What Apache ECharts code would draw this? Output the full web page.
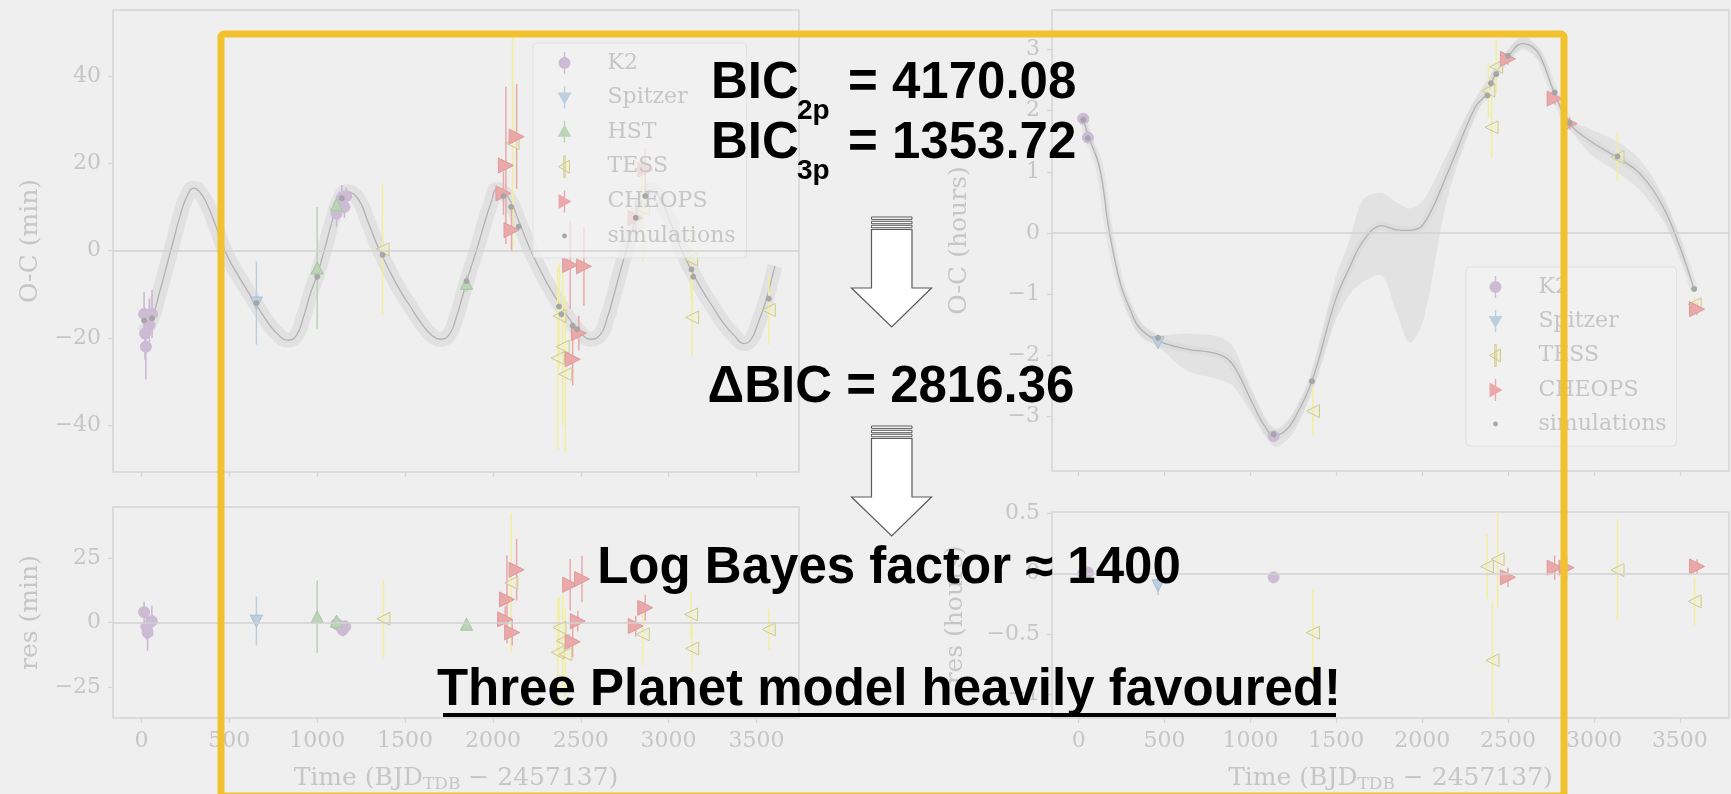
<!DOCTYPE html>
<html>
<head>
<meta charset="utf-8">
<script src="https://cdn.jsdelivr.net/npm/echarts@6/dist/echarts.min.js"></script>
<style>
html, body { margin: 0; padding: 0; background: #efefef; }
#chart_wrap { width: 1731px; height: 794px; }
</style>
</head>
<body>
<div id="chart_wrap"></div>
<script>
// tick labels
var xTicks = [0, 500, 1000, 1500, 2000, 2500, 3000, 3500];
var ocMinTicks = [-40, -20, 0, 20, 40];
var resMinTicks = [-25, 0, 25];
var ocHourTicks = [-3, -2, -1, 0, 1, 2, 3];
var resHourTicks = [-1, -0.5, 0, 0.5];

// left panel, O-C in minutes  -> [time, value, error]
var modelMin = [[10,-19],[60,-15.5],[100,-10],[140,-4],[180,2],[220,8],[260,12.5],[297,14.3],[340,13],[380,10],[420,6],[480,-0.5],[540,-5],[600,-9],[660,-12.8],[720,-16.5],[780,-19.3],[830,-20.5],[880,-19.5],[920,-15.5],[960,-10],[1000,-5.5],[1040,0],[1080,6],[1120,11],[1168,13.5],[1230,12],[1290,6.5],[1350,0.5],[1410,-4.5],[1470,-9],[1530,-12.8],[1590,-16.5],[1650,-19.3],[1700,-20.3],[1750,-19.3],[1790,-15.5],[1830,-10],[1870,-4.5],[1910,0.5],[1950,6],[1990,11],[2024,14],[2090,12],[2150,6.5],[2210,0.5],[2270,-4.5],[2330,-9],[2390,-12.8],[2450,-16.5],[2510,-19.3],[2550,-20.3],[2610,-19.3],[2650,-15.5],[2690,-10],[2730,-4],[2770,1.5],[2810,7],[2850,11.5],[2890,13.8],[2950,12],[3010,6.5],[3070,0.5],[3130,-4.5],[3190,-9],[3250,-12.8],[3310,-16.5],[3370,-19.3],[3430,-21.3],[3470,-20.3],[3510,-16.5],[3550,-12],[3580,-7.5],[3605,-3.5]];
var k2Min = [[15,-14.5,5],[20,-19,6],[25,-22,7.5],[45,-17,6],[60,-14.5,5.5],[1110,8.5,3],[1125,10.5,3],[1140,12,3],[1155,10,2.5],[1165,12.5,2]];
var spitzerMin = [[654,-12,9.5]];
var hstMin = [[1000,-4,14],[1110,10.5,2],[1850,-7.5,2]];
var tessMin = [[1372,0.3,15],[2112,24.6,25],[2369,-24.6,21],[2379,-15,12],[2397,-22,18],[2412,-28.3,18],[2853,9.5,12],[3128,-2,9],[3134,-15.3,9],[3570,-13.6,8]];
var cheopsMin = [[2060,13.1,5],[2074,19.5,18],[2106,4.7,5],[2135,26.1,12],[2440,-3.3,10],[2454,-24.9,6],[2489,-18.9,4],[2518,-3.6,9],[2813,7.5,4],[2867,18.5,5]];
var simsMin = [[15,-16],[60,-15.5],[654,-12],[1000,-6],[1140,12],[1372,-1],[1850,-7],[2060,12.5],[2104,10],[2147,5.5],[2376,-12.8],[2390,-14.6],[2454,-17.2],[2480,-18],[2813,7.5],[2867,12.5],[3130,-4.3],[3140,-6],[3570,-11]];

// left panel, residuals in minutes
var k2ResMin = [[15,4.1,4],[28,-1.5,5],[35,-3.8,7],[59,0.6,6],[1110,-0.5,2],[1125,-1,2.5],[1145,-2.8,2.5],[1160,-1.5,2.5]];
var spitzerResMin = [[654,0.6,9.5]];
var hstResMin = [[1000,2.3,14],[1110,0.6,2],[1850,-0.6,2]];
var tessResMin = [[1377,1.5,15],[2105,15.4,27],[2369,-11.5,21],[2379,-1.9,12],[2397,-7,18],[2412,-12.2,18],[2853,-4.5,12],[3128,3.2,9],[3134,-10,9],[3570,-2.6,8]];
var cheopsResMin = [[2070,1.3,5],[2080,9,17],[2110,-3.8,5],[2135,20.5,12],[2440,14.7,10],[2454,-7.4,6],[2483,0.6,4],[2507,16.9,9],[2813,-1.3,4],[2867,5.8,5]];

// right panel, O-C in hours
var modelHours = [[27,1.87],[54,1.6],[122,1.07],[177,0.04],[244,-0.84],[300,-1.25],[353,-1.55],[462,-1.77],[625,-1.9],[815,-1.99],[896,-2.15],[1005,-2.75],[1080,-3.15],[1140,-3.32],[1200,-3.25],[1249,-3.08],[1358,-2.43],[1494,-1.11],[1580,-0.55],[1657,-0.13],[1766,0.12],[1850,0.05],[1929,0.04],[2010,0.15],[2146,0.97],[2309,2.06],[2377,2.28],[2431,2.63],[2499,2.88],[2580,3.1],[2640,3.05],[2689,2.88],[2771,2.28],[2858,1.79],[2976,1.51],[3132,1.24],[3267,0.97],[3403,0.42],[3501,-0.24],[3583,-0.92]];
var bandHours = [[27,1.82,1.92],[122,0.98,1.16],[244,-0.95,-0.74],[353,-1.68,-1.42],[462,-1.86,-1.66],[625,-2.25,-1.65],[815,-2.4,-1.7],[896,-2.5,-1.85],[1005,-2.95,-2.55],[1140,-3.5,-3.2],[1249,-3.28,-2.95],[1358,-2.6,-2.28],[1494,-1.45,-0.75],[1580,-1.0,-0.1],[1657,-0.8,0.55],[1766,-0.7,0.65],[1850,-1.3,0.5],[1929,-1.8,0.4],[2010,-1.4,0.55],[2146,0.55,1.3],[2309,1.9,2.2],[2431,2.55,2.72],[2580,3.0,3.22],[2689,2.78,2.98],[2771,2.2,2.36],[2858,1.72,1.86],[2976,1.3,1.7],[3132,1.0,1.5],[3267,0.7,1.2],[3403,0.2,0.6],[3501,-0.4,-0.1],[3583,-0.96,-0.88]];
var k2Hours = [[27,1.87,0.05],[54,1.56,0.05],[1135,-3.33,0.05]];
var spitzerHours = [[462,-1.8,0.08]];
var tessHours = [[1364,-2.92,0.4],[2385,2.33,0.45],[2404,1.73,0.5],[2431,2.72,0.45],[3137,1.24,0.4],[3586,-1.17,0.12]];
var cheopsHours = [[2499,2.85,0.1],[2771,2.2,0.1],[2858,1.79,0.1],[3600,-1.25,0.1]];
var simsHours = [[27,1.85],[54,1.55],[462,-1.72],[1135,-3.3],[1358,-2.43],[2380,2.25],[2400,2.45],[2431,2.6],[2499,2.9],[2771,2.3],[2858,1.8],[3137,1.25],[3583,-0.92]];

// right panel, residuals in hours
var k2ResHours = [[27,0,0.04],[54,0.01,0.04],[1135,-0.03,0.04]];
var spitzerResHours = [[462,-0.1,0.08]];
var tessResHours = [[1364,-0.49,0.36],[2377,0.06,0.27],[2409,-0.72,0.48],[2439,0.12,0.4],[3137,0.03,0.42],[3586,-0.23,0.2]];
var cheopsResHours = [[2499,-0.03,0.08],[2771,0.05,0.1],[2840,0.05,0.1],[3600,0.06,0.06]];

var chart_wrap = document.getElementById("chart_wrap");
var chart = echarts.init(chart_wrap);

var FRAME = '#d5d5d5';
var LABEL = '#c6c6c6';
var SERIF = '"DejaVu Serif", serif';
var COL = {
    k2: '#cdbad5', k2Line: '#cbb6d3',
    spitzer: '#bccfe0', hst: '#b9d5b4',
    tess: '#f2ee9f', tessEdge: '#cfca8e',
    cheops: '#eba8a8', sims: '#a6a6a6'
};

var minus = function (v) { return String(v).replace('-', '\u2212'); };

function xAxis(grid, min, max, withLabels) {
    return {
        gridIndex: grid, type: 'value', min: min, max: max,
        axisLine: { show: false, onZero: false }, splitLine: { show: false },
        axisTick: { show: true, customValues: xTicks, length: 5, lineStyle: { color: FRAME, width: 1.2 } },
        axisLabel: { show: withLabels, customValues: xTicks, margin: 12, color: LABEL, fontFamily: SERIF, fontSize: 22, formatter: minus },
        name: withLabels ? 'Time (BJD{sub|TDB} \u2212 2457137)' : '',
        nameLocation: 'middle', nameGap: 46,
        nameTextStyle: { color: LABEL, fontFamily: SERIF, fontSize: 25,
            rich: { sub: { fontFamily: SERIF, fontSize: 17, color: LABEL, padding: [12, 0, 0, 0] } } }
    };
}
function yAxis(grid, min, max, ticks, name, gap) {
    return {
        gridIndex: grid, type: 'value', min: min, max: max,
        axisLine: { show: false, onZero: false }, splitLine: { show: false },
        axisTick: { show: true, customValues: ticks, length: 5, lineStyle: { color: FRAME, width: 1.2 } },
        axisLabel: { customValues: ticks, margin: 12, color: LABEL, fontFamily: SERIF, fontSize: 22, formatter: minus },
        name: name, nameLocation: 'middle', nameGap: gap, nameRotate: 90,
        nameTextStyle: { color: LABEL, fontFamily: SERIF, fontSize: 25 }
    };
}

function errorBars(name, axis, data, color, width) {
    return {
        name: name, type: 'custom', xAxisIndex: axis, yAxisIndex: axis, data: data,
        silent: true, z: 2, clip: true,
        renderItem: function (params, api) {
            var x = api.value(0), y = api.value(1), e = api.value(2);
            var a = api.coord([x, y - e]), b = api.coord([x, y + e]);
            return { type: 'line', shape: { x1: a[0], y1: a[1], x2: b[0], y2: b[1] },
                style: { stroke: color, lineWidth: width } };
        }
    };
}
function points(name, axis, data, symbol, rotate, size, fill, edge, z) {
    return {
        name: name, type: 'scatter', xAxisIndex: axis, yAxisIndex: axis, data: data,
        symbol: symbol, symbolRotate: rotate, symbolSize: size, silent: true, z: z || 3,
        itemStyle: { color: fill, borderColor: edge, borderWidth: 1, opacity: 1 }
    };
}
function zeroLine(axis) {
    return {
        type: 'line', xAxisIndex: axis, yAxisIndex: axis, data: [], silent: true, z: 1,
        markLine: { silent: true, symbol: 'none', label: { show: false },
            lineStyle: { color: '#d2d2d2', width: 1.5, type: 'solid' }, data: [{ yAxis: 0 }] }
    };
}

var series = [];
// left top
series.push(zeroLine(0));
series.push({ type: 'line', xAxisIndex: 0, yAxisIndex: 0, data: modelMin, smooth: 0.5, symbol: 'none', silent: true, z: 1,
    lineStyle: { color: 'rgba(205,205,205,0.4)', width: 15 } });
series.push({ type: 'line', xAxisIndex: 0, yAxisIndex: 0, data: modelMin, smooth: 0.5, symbol: 'none', silent: true, z: 1,
    lineStyle: { color: '#b2b2b2', width: 1.3 } });
series.push(errorBars('K2', 0, k2Min, COL.k2Line, 1.5));
series.push(errorBars('Spitzer', 0, spitzerMin, COL.spitzer, 1.5));
series.push(errorBars('HST', 0, hstMin, COL.hst, 1.5));
series.push(errorBars('TESS', 0, tessMin, COL.tess, 1.5));
series.push(errorBars('CHEOPS', 0, cheopsMin, COL.cheops, 1.5));
series.push(points('K2', 0, k2Min, 'circle', 0, 11, COL.k2, COL.k2));
series.push(points('Spitzer', 0, spitzerMin, 'triangle', 180, 12, COL.spitzer, '#a9bfd4'));
series.push(points('HST', 0, hstMin, 'triangle', 0, 12, COL.hst, '#a6c7a1'));
series.push(points('TESS', 0, tessMin, 'triangle', 90, 13, 'rgba(240,238,205,0.6)', COL.tessEdge));
series.push(points('CHEOPS', 0, cheopsMin, 'triangle', -90, 15, COL.cheops, '#dc9b9b'));
series.push(points('simulations', 0, simsMin, 'circle', 0, 5, COL.sims, COL.sims, 4));
// left bottom
series.push(zeroLine(1));
series.push(errorBars('K2', 1, k2ResMin, COL.k2Line, 1.5));
series.push(errorBars('Spitzer', 1, spitzerResMin, COL.spitzer, 1.5));
series.push(errorBars('HST', 1, hstResMin, COL.hst, 1.5));
series.push(errorBars('TESS', 1, tessResMin, COL.tess, 1.5));
series.push(errorBars('CHEOPS', 1, cheopsResMin, COL.cheops, 1.5));
series.push(points('K2', 1, k2ResMin, 'circle', 0, 11, COL.k2, COL.k2));
series.push(points('Spitzer', 1, spitzerResMin, 'triangle', 180, 12, COL.spitzer, '#a9bfd4'));
series.push(points('HST', 1, hstResMin, 'triangle', 0, 12, COL.hst, '#a6c7a1'));
series.push(points('TESS', 1, tessResMin, 'triangle', 90, 13, 'rgba(240,238,205,0.6)', COL.tessEdge));
series.push(points('CHEOPS', 1, cheopsResMin, 'triangle', -90, 15, COL.cheops, '#dc9b9b'));
// right top
series.push(zeroLine(2));
series.push({ type: 'custom', xAxisIndex: 2, yAxisIndex: 2, data: [[bandHours[0][0], bandHours[0][1]]], silent: true, z: 1,
    renderItem: function (params, api) {
        var pts = [];
        bandHours.forEach(function (r) { pts.push(api.coord([r[0], r[1]])); });
        for (var i = bandHours.length - 1; i >= 0; i--) pts.push(api.coord([bandHours[i][0], bandHours[i][2]]));
        return { type: 'polygon', shape: { points: pts, smooth: 0.3 }, style: { fill: 'rgba(208,208,208,0.4)' } };
    } });
series.push({ type: 'line', xAxisIndex: 2, yAxisIndex: 2, data: modelHours, smooth: 0.4, symbol: 'none', silent: true, z: 1,
    lineStyle: { color: 'rgba(205,205,205,0.3)', width: 8 } });
series.push({ type: 'line', xAxisIndex: 2, yAxisIndex: 2, data: modelHours, smooth: 0.4, symbol: 'none', silent: true, z: 1,
    lineStyle: { color: '#b2b2b2', width: 1.3 } });
series.push(errorBars('K2', 2, k2Hours, COL.k2Line, 1.5));
series.push(errorBars('Spitzer', 2, spitzerHours, COL.spitzer, 1.5));
series.push(errorBars('TESS', 2, tessHours, COL.tess, 1.5));
series.push(errorBars('CHEOPS', 2, cheopsHours, COL.cheops, 1.5));
series.push(points('K2', 2, k2Hours, 'circle', 0, 11, COL.k2, COL.k2));
series.push(points('Spitzer', 2, spitzerHours, 'triangle', 180, 12, COL.spitzer, '#a9bfd4'));
series.push(points('TESS', 2, tessHours, 'triangle', 90, 13, 'rgba(240,238,205,0.6)', COL.tessEdge));
series.push(points('CHEOPS', 2, cheopsHours, 'triangle', -90, 15, COL.cheops, '#dc9b9b'));
series.push(points('simulations', 2, simsHours, 'circle', 0, 5, COL.sims, COL.sims, 4));
// right bottom
series.push(zeroLine(3));
series.push(errorBars('K2', 3, k2ResHours, COL.k2Line, 1.5));
series.push(errorBars('Spitzer', 3, spitzerResHours, COL.spitzer, 1.5));
series.push(errorBars('TESS', 3, tessResHours, COL.tess, 1.5));
series.push(errorBars('CHEOPS', 3, cheopsResHours, COL.cheops, 1.5));
series.push(points('K2', 3, k2ResHours, 'circle', 0, 11, COL.k2, COL.k2));
series.push(points('Spitzer', 3, spitzerResHours, 'triangle', 180, 12, COL.spitzer, '#a9bfd4'));
series.push(points('TESS', 3, tessResHours, 'triangle', 90, 13, 'rgba(240,238,205,0.6)', COL.tessEdge));
series.push(points('CHEOPS', 3, cheopsResHours, 'triangle', -90, 15, COL.cheops, '#dc9b9b'));

// legend icons: marker with its error bar
var BOX = 'M0,0h0.01M22,22h0.01';
var ICON = {
    'K2': 'path://' + BOX + 'M5,11a6,6 0 1,1 12,0a6,6 0 1,1 -12,0zM10.3,0h1.4v22h-1.4z',
    'Spitzer': 'path://' + BOX + 'M4,6h14l-7,12zM10.3,0h1.4v22h-1.4z',
    'HST': 'path://' + BOX + 'M11,4l7,12h-14zM10.3,0h1.4v22h-1.4z',
    'TESS': 'path://' + BOX + 'M5,11l11,-6.5v13zM10.3,0h1.4v22h-1.4z',
    'CHEOPS': 'path://' + BOX + 'M5,3.5l13,7.5l-13,7.5zM10.3,0h1.4v22h-1.4z',
    'simulations': 'path://' + BOX + 'M8.6,11a2.4,2.4 0 1,1 4.8,0a2.4,2.4 0 1,1 -4.8,0z'
};
var ICON_STYLE = {
    'K2': { color: COL.k2, borderWidth: 0 },
    'Spitzer': { color: COL.spitzer, borderWidth: 0 },
    'HST': { color: COL.hst, borderWidth: 0 },
    'TESS': { color: 'rgba(240,238,200,0.8)', borderColor: COL.tessEdge, borderWidth: 1 },
    'CHEOPS': { color: COL.cheops, borderWidth: 0 },
    'simulations': { color: COL.sims, borderWidth: 0 }
};
function legendItems(names) {
    return names.map(function (n) { return { name: n, icon: ICON[n], itemStyle: ICON_STYLE[n] }; });
}
function legendBox(left, top, gap, names, pad) {
    return {
        left: left, top: top, orient: 'vertical', selectedMode: false,
        itemWidth: 22, itemHeight: 22, itemGap: gap, padding: pad,
        backgroundColor: 'rgba(242,242,242,0.7)', borderColor: '#e1e1e1', borderWidth: 1, borderRadius: 4,
        textStyle: { fontFamily: SERIF, fontSize: 22, color: LABEL, lineHeight: 22, padding: [0, 0, 0, 27] },
        data: legendItems(names)
    };
}

// the slide overlay: box, text and arrows
var BOLD = 'bold 51px "Liberation Sans", Arial, sans-serif';
var SUB = 'bold 28px "Liberation Sans", Arial, sans-serif';
function txt(s, x, y, font, align) {
    return { type: 'text', x: x, y: y, z: 100, silent: true,
        style: { text: s, font: font, fill: '#000', textAlign: align || 'left', textVerticalAlign: 'middle' } };
}
function arrow(dy) {
    var g = [];
    [217, 221.3, 225.3].forEach(function (y) {
        g.push({ type: 'rect', z: 100, silent: true, shape: { x: 871.5, y: y + dy, width: 40.5, height: 2.4 },
            style: { fill: '#fff', stroke: '#5a5a5a', lineWidth: 1 } });
    });
    g.push({ type: 'polygon', z: 100, silent: true,
        shape: { points: [[871.5, 229.5 + dy], [912, 229.5 + dy], [912, 288 + dy], [931.5, 288 + dy], [891.7, 327 + dy], [851.5, 288 + dy], [871.5, 288 + dy]] },
        style: { fill: '#fff', stroke: '#5a5a5a', lineWidth: 1.2 } });
    return g;
}

var graphic = [
    { type: 'rect', z: 99, silent: true, shape: { x: 221, y: 34, width: 1343, height: 762, r: 3 },
        style: { fill: 'none', stroke: '#f2c12e', lineWidth: 7 } },
    txt('BIC', 711, 84, BOLD), txt('2p', 797, 111, SUB), txt('= 4170.08', 848, 84, BOLD),
    txt('BIC', 711, 144, BOLD), txt('3p', 797, 171, SUB), txt('= 1353.72', 848, 144, BOLD),
    txt('\u0394BIC = 2816.36', 891, 388, BOLD, 'center'),
    txt('Log Bayes factor \u2248 1400', 889, 569, BOLD, 'center'),
    txt('Three Planet model heavily favoured!', 889, 691, BOLD, 'center'),
    { type: 'rect', z: 100, silent: true, shape: { x: 443, y: 713, width: 893, height: 4 }, style: { fill: '#000' } }
].concat(arrow(0)).concat(arrow(209));

var option = {
    backgroundColor: '#efefef',
    animation: false,
    grid: [
        { left: 113, top: 10, width: 686, height: 462, show: true, borderColor: FRAME, borderWidth: 1.5, backgroundColor: 'transparent' },
        { left: 113, top: 507, width: 686, height: 212, show: true, borderColor: FRAME, borderWidth: 1.5, backgroundColor: 'transparent' },
        { left: 1052, top: 10, width: 677, height: 461, show: true, borderColor: FRAME, borderWidth: 1.5, backgroundColor: 'transparent' },
        { left: 1052, top: 512, width: 677, height: 207, show: true, borderColor: FRAME, borderWidth: 1.5, backgroundColor: 'transparent' }
    ],
    xAxis: [
        xAxis(0, -162, 3742, false),
        xAxis(1, -162, 3742, true),
        xAxis(2, -155, 3786, false),
        xAxis(3, -155, 3786, true)
    ],
    yAxis: [
        yAxis(0, -50.7, 55.1, ocMinTicks, 'O-C (min)', 70),
        yAxis(1, -36.9, 44.8, resMinTicks, 'res (min)', 70),
        yAxis(2, -3.9, 3.65, ocHourTicks, 'O-C (hours)', 80),
        yAxis(3, -1.2, 0.513, resHourTicks, 'res (hours)', 84)
    ],
    legend: [
        legendBox(533, 43, 12.4, ['K2', 'Spitzer', 'HST', 'TESS', 'CHEOPS', 'simulations'], [9, 11, 11, 20]),
        legendBox(1466, 267, 12, ['K2', 'Spitzer', 'TESS', 'CHEOPS', 'simulations'], [9, 10, 11, 18])
    ],
    series: series,
    graphic: graphic
};

if (option && typeof option === "object") {
    chart.setOption(option, true);
}
</script>
</body>
</html>
